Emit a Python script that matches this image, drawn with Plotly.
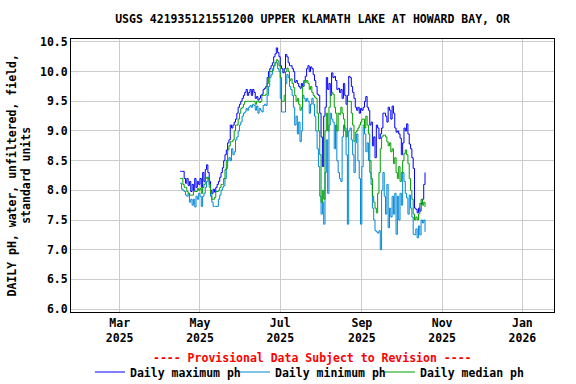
import pandas as pd
import plotly.graph_objects as go

start_date = "2025-04-16"

# Daily maximum pH (Apr 16 .. Oct 19, 2025)
ph_max = (
    # Apr 16-30
    [8.32, 8.32, 8.32, 8.2, 8.12, 8.2, 8.08, 8.15, 7.98, 8.1, 8.0, 8.2, 8.05, 8.15, 8.1]
    # May
    + [8.2, 8.05, 8.3, 8.15, 8.35, 8.43, 8.3, 8.15, 8.0, 7.95, 8.02, 7.97, 8.05, 8.1, 8.15, 8.22,
       8.3, 8.38, 8.5, 8.6, 8.68, 8.8, 8.85, 9.1, 9.05, 9.1, 9.15, 9.2, 9.3, 9.4, 9.45]
    # Jun
    + [9.5, 9.55, 9.6, 9.65, 9.7, 9.6, 9.65, 9.7, 9.6, 9.7, 9.65, 9.55, 9.58, 9.52, 9.55,
       9.6, 9.62, 9.7, 9.72, 9.75, 9.9, 10.0, 10.05, 10.1, 10.15, 10.25, 10.3, 10.4, 10.32, 10.25]
    # Jul
    + [10.1, 10.05, 9.98, 10.05, 10.29, 10.25, 10.15, 10.1, 10.1, 10.05, 10.0, 9.82, 9.85, 9.8, 9.75,
       9.72, 9.8, 9.75, 9.85, 9.92, 10.05, 10.1, 10.0, 10.08, 10.05, 9.95, 9.85, 9.75, 9.62, 9.6, 9.3]
    # Aug
    + [8.9, 8.4, 9.25, 9.4, 9.9, 9.7, 9.8, 9.6, 9.98, 9.9, 9.92, 9.85, 9.7, 9.72, 9.65,
       9.7, 9.55, 9.8, 9.6, 9.45, 9.6, 9.92, 9.9, 9.75, 9.65, 9.55, 9.4, 9.35, 9.4, 9.3, 9.38]
    # Sep
    + [9.35, 9.4, 9.5, 9.58, 9.4, 9.35, 9.1, 9.15, 8.75, 8.9, 8.55, 9.1, 9.05, 8.87, 8.95,
       9.05, 9.3, 9.3, 9.25, 9.15, 9.4, 9.35, 9.2, 9.42, 9.3, 9.05, 8.98, 9.0, 8.95, 8.88]
    # Oct 1-19
    + [8.6, 8.8, 9.05, 9.0, 9.12, 8.95, 8.78, 8.7, 8.55, 8.37, 7.7, 7.68, 7.62, 7.7, 7.65,
       7.78, 7.85, 8.1, 8.3]
)

# Daily minimum pH
ph_min = (
    [8.12, 8.02, 8.0, 7.98, 7.92, 7.9, 7.95, 7.8, 7.85, 7.75, 7.85, 7.72, 7.9, 7.85, 7.95]
    + [7.9, 7.73, 7.9, 7.95, 8.05, 8.15, 8.22, 8.05, 7.9, 7.8, 7.73, 7.73, 7.73, 7.73, 7.85, 7.92,
       8.0, 8.05, 8.08, 8.2, 8.37, 8.5, 8.55, 8.5, 8.7, 8.6, 8.65, 8.85, 8.9, 9.0, 9.1]
    + [9.15, 9.25, 9.3, 9.32, 9.38, 9.35, 9.4, 9.43, 9.4, 9.45, 9.43, 9.35, 9.42, 9.3, 9.38,
       9.35, 9.32, 9.43, 9.45, 9.43, 9.6, 9.75, 9.9, 9.95, 10.05, 10.1, 10.15, 10.15, 10.05, 10.0]
    + [9.55, 9.32, 9.32, 9.32, 9.8, 9.95, 9.9, 9.75, 9.7, 9.6, 9.4, 9.1, 9.25, 8.95, 9.15,
       8.82, 9.0, 9.6, 9.55, 9.5, 9.55, 9.5, 9.3, 9.45, 9.55, 9.45, 9.25, 9.0, 8.7, 8.4, 7.9]
    + [7.6, 7.8, 7.43, 8.3, 8.85, 7.95, 9.1, 9.3, 9.2, 9.15, 8.7, 9.1, 8.5, 8.3, 8.2,
       8.15, 8.9, 9.1, 9.05, 8.6, 7.43, 9.0, 9.05, 8.85, 8.6, 8.3, 8.8, 8.95, 8.5, 8.2, 7.43]
    + [8.4, 9.1, 8.95, 8.65, 8.8, 8.5, 8.3, 8.1, 7.7, 7.5, 7.32, 7.3, 7.28, 7.32, 7.0,
       8.0, 8.3, 7.9, 7.6, 8.1, 7.37, 7.7, 7.55, 7.9, 7.6, 7.95, 7.26, 7.9, 7.5, 7.95]
    + [7.75, 8.3, 8.15, 7.95, 7.87, 7.6, 7.92, 7.7, 7.55, 7.26, 7.25, 7.35, 7.2, 7.4, 7.25,
       7.5, 7.45, 7.5, 7.3]
)

# Daily median pH
ph_med = (
    [8.2, 8.2, 8.1, 8.05, 8.05, 7.98, 7.95, 7.92, 7.92, 7.92, 7.98, 7.98, 7.98, 8.03, 8.0]
    + [8.03, 7.95, 8.05, 8.1, 8.2, 8.22, 8.2, 8.1, 7.95, 7.85, 7.85, 7.88, 7.98, 7.98, 8.0, 8.05,
       8.1, 8.1, 8.2, 8.35, 8.5, 8.68, 8.75, 8.82, 8.82, 8.85, 9.0, 9.1, 9.1, 9.2, 9.3]
    + [9.38, 9.4, 9.45, 9.5, 9.5, 9.5, 9.5, 9.5, 9.5, 9.5, 9.5, 9.45, 9.5, 9.5, 9.48,
       9.5, 9.6, 9.6, 9.6, 9.62, 9.8, 9.9, 10.0, 10.0, 10.02, 10.1, 10.15, 10.2, 10.18, 10.1]
    + [9.9, 9.5, 9.5, 9.6, 10.0, 10.06, 10.0, 9.85, 9.88, 9.8, 9.73, 9.6, 9.5, 9.55, 9.45,
       9.35, 9.4, 9.75, 9.85, 9.82, 9.85, 9.8, 9.7, 9.75, 9.65, 9.6, 9.57, 9.55, 9.3, 9.0, 8.6]
    + [7.8, 8.0, 7.85, 9.0, 9.3, 9.0, 9.4, 9.6, 9.65, 9.62, 9.4, 9.3, 9.0, 9.3, 9.28,
       9.4, 9.3, 9.2, 9.0, 8.9, 9.5, 9.5, 9.5, 9.3, 9.1, 8.82, 8.98, 9.0, 9.05, 9.1, 9.15]
    + [9.2, 9.2, 9.05, 9.25, 9.1, 8.95, 8.5, 8.2, 7.9, 7.8, 7.7, 7.62, 7.95, 8.3, 8.7,
       8.9, 8.93, 8.93, 8.9, 8.82, 8.75, 8.8, 8.65, 8.7, 8.45, 8.55, 8.3, 8.2, 8.4, 8.15]
    + [8.3, 8.5, 8.62, 8.68, 8.6, 8.45, 8.2, 8.0, 7.85, 7.6, 7.5, 7.55, 7.5, 7.6, 7.78,
       7.85, 7.75, 7.8, 7.72]
)

x_tick_vals = ["2025-03-01", "2025-05-01", "2025-07-01", "2025-09-01", "2025-11-01", "2026-01-01"]
x_tick_text = ["Mar<br>2025", "May<br>2025", "Jul<br>2025", "Sep<br>2025", "Nov<br>2025", "Jan<br>2026"]
y_tick_vals = [6.0, 6.5, 7.0, 7.5, 8.0, 8.5, 9.0, 9.5, 10.0, 10.5]

series_names = ["Daily maximum ph", "Daily minimum ph", "Daily median ph"]
series_colors = ["#0000ff", "#0088d8", "#00a000"]

FONT = "DejaVu Sans Mono"
FS = 11.5

fig = go.Figure()
for name, vals, col in zip(series_names, [ph_max, ph_min, ph_med], series_colors):
    dates = pd.date_range(start_date, periods=len(vals), freq="D")
    fig.add_trace(go.Scatter(
        x=dates, y=vals, mode="lines", name=name,
        line=dict(color=col, width=1, shape="hv"),
    ))

fig.update_layout(
    width=576, height=384,
    margin=dict(l=71, r=22, t=39, b=72, autoexpand=False),
    paper_bgcolor="white", plot_bgcolor="white",
    font=dict(family=FONT, size=FS, color="black", weight="bold"),
    title=dict(text="USGS 421935121551200 UPPER KLAMATH LAKE AT HOWARD BAY, OR",
               x=(71 + 554) / 2 / 576, xanchor="center", y=1 - 19 / 384, yanchor="middle",
               font=dict(family=FONT, size=FS, color="black", weight="bold")),
    showlegend=True,
    legend=dict(orientation="h", xref="container", x=(90 / 576), xanchor="left",
                yref="container", y=1 - 372 / 384, yanchor="middle",
                font=dict(family=FONT, size=FS, color="black", weight="bold"),
                itemwidth=30, entrywidth=100, entrywidthmode="pixels",
                bgcolor="rgba(0,0,0,0)", tracegroupgap=0),
)

fig.update_xaxes(
    type="date", range=["2025-01-23", "2026-01-25"], automargin=False,
    tickvals=x_tick_vals, ticktext=x_tick_text, ticks="",
    showgrid=True, gridcolor="#cccccc", gridwidth=1,
    showline=True, linecolor="black", linewidth=1, mirror=True,
    zeroline=False, tickfont=dict(family=FONT, size=FS, color="black", weight="bold"),
)
fig.update_yaxes(
    range=[5.95, 10.55], tickvals=y_tick_vals, tickformat=".1f", ticks="", automargin=False,
    showgrid=True, gridcolor="#cccccc", gridwidth=1,
    showline=True, linecolor="black", linewidth=1, mirror=True,
    zeroline=False, tickfont=dict(family=FONT, size=FS, color="black", weight="bold"),
)

fig.add_annotation(
    text="DAILY pH, water, unfiltered, field,<br>standard units",
    xref="paper", yref="paper", x=-(71 - 19) / 483, y=0.5,
    xanchor="center", yanchor="middle", textangle=-90, showarrow=False,
    font=dict(family=FONT, size=FS, color="black", weight="bold"),
)
fig.add_annotation(
    text="---- Provisional Data Subject to Revision ----",
    xref="paper", yref="paper", x=0.5, y=-(358 - 312) / 273,
    xanchor="center", yanchor="middle", showarrow=False,
    font=dict(family=FONT, size=FS, color="red", weight="bold"),
)

fig.write_html(
    "out.html",
    config={"displayModeBar": False},
    post_script="document.body.style.margin='0px';document.body.style.overflow='hidden';",
)
